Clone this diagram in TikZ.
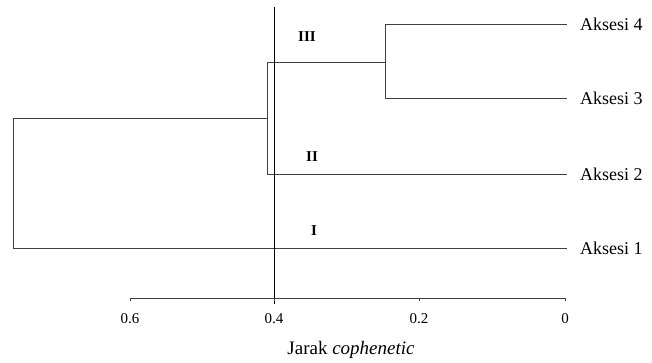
\documentclass[tikz,border=0pt]{standalone}
\usepackage{fontspec}
\setmainfont{Liberation Serif}
\begin{document}
\begin{tikzpicture}[x=1pt,y=-1pt,
  br/.style={line width=0.9pt,draw=black!75},
  leaf/.style={anchor=west,inner sep=0pt,font=\fontsize{18}{20}\selectfont},
  tick/.style={anchor=north,inner sep=0pt,font=\fontsize{15}{18}\selectfont},
  grp/.style={inner sep=0pt,font=\fontsize{15}{16}\selectfont\bfseries}]
\useasboundingbox (0,0) rectangle (652,362);
% leaf endpoints
\coordinate (e4) at (567,24);
\coordinate (e3) at (567,98);
\coordinate (e2) at (567,174);
\coordinate (e1) at (567,248);
\node[leaf] (l4) at (580,24) {Aksesi 4};
\node[leaf] (l3) at (580,98) {Aksesi 3};
\node[leaf] (l2) at (580,174) {Aksesi 2};
\node[leaf] (l1) at (580,248) {Aksesi 1};
% merge points
\coordinate (m34t) at (385,24);
\coordinate (m34b) at (385,98);
\coordinate (m34) at (385,62);
\coordinate (m2t) at (267,62);
\coordinate (m2b) at (267,174);
\coordinate (m2) at (267,118);
\coordinate (rt) at (13,118);
\coordinate (rb) at (13,248);
\draw[br] (e4) -- (m34t) -- (m34b) -- (e3);
\draw[br] (m34) -- (m2t) -- (m2b) -- (e2);
\draw[br] (m2) -- (rt) -- (rb) -- (e1);
% cut line
\coordinate (ct) at (274,7);
\coordinate (cb) at (274,304);
\draw[line width=0.9pt] (ct) -- (cb);
% axis
\coordinate (a0) at (565,298);
\coordinate (a6) at (130,298);
\draw[br] (a6) -- (a0);
\foreach \x/\t/\n in {130/0.6/t6,274/0.4/t4,419/0.2/t2,565/0/t0}{
  \draw[br] (\x,298) -- (\x,301);
  \node[tick] (\n) at (\x,313) {\t};
}
\node[inner sep=0pt,font=\fontsize{19}{22}\selectfont] (xl) at (351,350) {Jarak \textit{cophenetic}};
% group labels
\node[grp] (g3) at (307,37) {III};
\node[grp] (g2) at (312,157) {II};
\node[grp] (g1) at (314,231) {I};
\end{tikzpicture}
\end{document}
